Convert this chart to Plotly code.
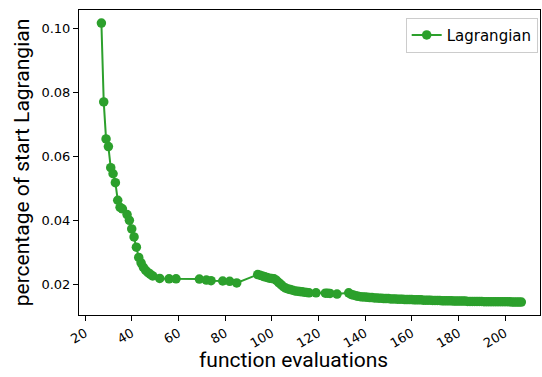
import plotly.graph_objects as go

evals = [27, 28, 29, 30, 31, 32, 33, 34, 35, 36, 38, 39, 40, 41, 42, 43, 44, 45, 46, 47, 48, 49,
         52, 56, 59, 69, 72, 74, 79, 82, 85,
         94, 95, 96, 97, 98, 99, 100, 101, 102, 103, 104, 105, 106, 107, 108, 109, 110, 111, 112,
         113, 114, 115, 116, 119, 123, 124, 125, 128,
         133, 134, 135, 136, 137, 138, 139, 140, 141, 142, 143, 144, 145, 146, 147, 148, 149, 150,
         151, 152, 153, 154, 155, 156, 157, 158, 159, 160, 161, 162, 163, 164, 165, 166, 167, 168,
         169, 170, 171, 172, 173, 174, 175, 176, 177, 178, 179, 180, 181, 182, 183, 184, 185, 186,
         187, 188, 189, 190, 191, 192, 193, 194, 195, 196, 197, 198, 199, 200, 201, 202, 203, 204,
         205, 206, 207]

lagrangian = [0.1018, 0.0771, 0.0655, 0.0631, 0.0565, 0.0546, 0.0518, 0.0463, 0.0441, 0.0436,
              0.0418, 0.0400, 0.0373, 0.0348, 0.0316, 0.0284, 0.0267, 0.0253, 0.0243, 0.0236,
              0.0231, 0.0226,
              0.0218, 0.0217, 0.0217, 0.0216, 0.0213, 0.0211, 0.0210, 0.0209, 0.0204,
              0.0230, 0.0228, 0.0226, 0.0223, 0.0221, 0.0219, 0.0218, 0.0217, 0.0212, 0.0205,
              0.0199, 0.0192, 0.0188, 0.0185, 0.0183, 0.0181, 0.0179, 0.0178, 0.0177,
              0.0176, 0.0175, 0.0174, 0.0173, 0.0173, 0.0172, 0.0172, 0.0171, 0.0169,
              0.0173, 0.0168, 0.0166, 0.0164, 0.0162, 0.0161, 0.0160, 0.0160, 0.0159, 0.0158,
              0.0158, 0.0157, 0.0157, 0.0156, 0.0156, 0.0155, 0.0155, 0.0155,
              0.0154, 0.0154, 0.0154, 0.0153, 0.0153, 0.0153, 0.0152, 0.0152, 0.0152, 0.0152,
              0.0151, 0.0151, 0.0151, 0.0151, 0.0150, 0.0150, 0.0150, 0.0150,
              0.0149, 0.0149, 0.0149, 0.0149, 0.0148, 0.0148, 0.0148, 0.0148, 0.0148, 0.0147,
              0.0147, 0.0147, 0.0147, 0.0147, 0.0147, 0.0146, 0.0146, 0.0146,
              0.0146, 0.0146, 0.0146, 0.0146, 0.0145, 0.0145, 0.0145, 0.0145, 0.0145, 0.0145,
              0.0145, 0.0145, 0.0145, 0.0145, 0.0145, 0.0145, 0.0144, 0.0144,
              0.0144, 0.0144, 0.0144]

x_ticks = [20, 40, 60, 80, 100, 120, 140, 160, 180, 200]
y_ticks = [0.02, 0.04, 0.06, 0.08, 0.10]

green = "#2ca02c"

fig = go.Figure()
fig.add_trace(go.Scatter(
    x=evals, y=lagrangian, mode="lines+markers", name="Lagrangian",
    line=dict(color=green, width=2),
    marker=dict(color=green, size=9.5),
))

tick_font = dict(family="DejaVu Sans", size=13, color="black")
title_font = dict(family="Roboto", size=21, color="black")

fig.update_layout(
    width=542, height=377,
    margin=dict(l=79, r=2, t=10, b=62, autoexpand=False),
    plot_bgcolor="white", paper_bgcolor="white",
    showlegend=True,
    legend=dict(x=0.995, y=0.975, xanchor="right", yanchor="top",
                bgcolor="white", bordercolor="#cccccc", borderwidth=1,
                font=dict(family="DejaVu Sans", size=15, color="black")),
    xaxis=dict(range=[17.4, 215], tickvals=x_ticks, ticktext=[str(v) for v in x_ticks],
               tickangle=-30, ticks="outside", ticklen=5, tickcolor="black",
               showline=True, linecolor="black", linewidth=1, mirror=True,
               showgrid=False, zeroline=False, tickfont=tick_font, automargin=False),
    yaxis=dict(range=[0.01035, 0.1059], tickvals=y_ticks,
               ticktext=["%.2f" % v for v in y_ticks],
               ticks="outside", ticklen=5, tickcolor="black",
               showline=True, linecolor="black", linewidth=1, mirror=True,
               showgrid=False, zeroline=False, tickfont=tick_font, automargin=False,
               title=dict(text="percentage of start Lagrangian", font=title_font, standoff=6)),
    annotations=[dict(text="function evaluations", xref="paper", yref="paper",
                      x=0.465, y=-0.148, xanchor="center", yanchor="middle",
                      showarrow=False, font=title_font)],
)

fig.write_html("out.html", config={"displayModeBar": False},
               post_script="document.body.style.margin='0';")
